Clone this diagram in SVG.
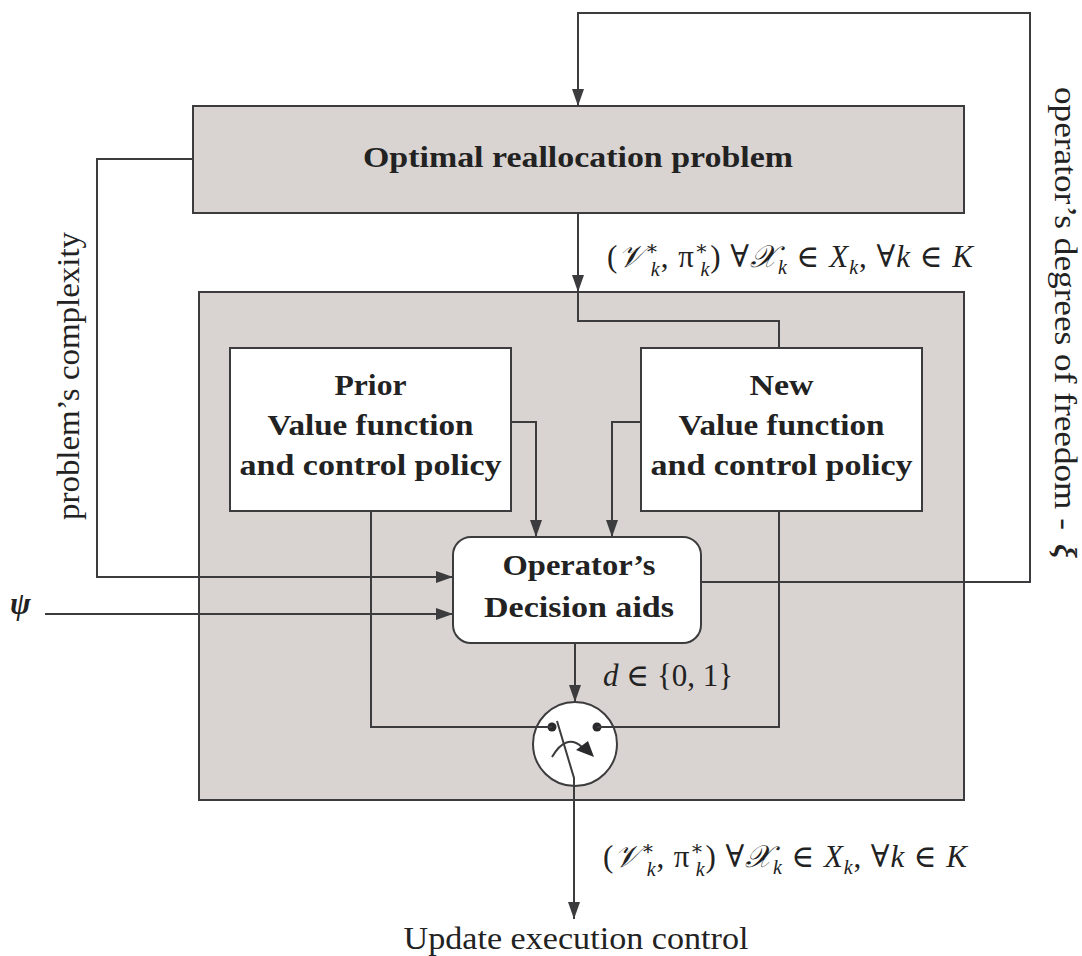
<svg xmlns="http://www.w3.org/2000/svg" width="1082" height="956" viewBox="0 0 1082 956">
<defs>
<style>
.box{fill:#d9d4d1;stroke:#3c3c3e;stroke-width:2}
.wbox{fill:#ffffff;stroke:#3c3c3e;stroke-width:2}
.ln{fill:none;stroke:#3c3c3e;stroke-width:2}
.b{font-family:"Liberation Serif","Times New Roman",serif;font-weight:bold;font-size:29px;fill:#222;text-anchor:middle}
.r{font-family:"Liberation Serif","Times New Roman",serif;font-size:31px;fill:#222}
.m{font-family:"Liberation Serif","DejaVu Serif",serif;font-size:31px;fill:#222}
.it{font-style:italic}
.cal{font-family:"DejaVu Serif","Noto Sans",serif;font-style:italic}
.sup{font-size:20px}
.sub{font-size:20px;font-style:italic}
</style>
<marker id="arr" viewBox="0 0 17 12" refX="17" refY="6" markerWidth="17" markerHeight="12" orient="auto" markerUnits="userSpaceOnUse">
<path d="M0,0 L17,6 L0,12 z" fill="#3c3c3e"/>
</marker>
</defs>

<g id="optimal-problem">
<rect class="box" x="193" y="106" width="771" height="107"/>
<text class="b" x="578" y="167" textLength="430" lengthAdjust="spacingAndGlyphs">Optimal reallocation problem</text>
</g>

<g id="container">
<rect class="box" x="199" y="292" width="765" height="508"/>
</g>

<g id="prior">
<rect class="wbox" x="230" y="348" width="281" height="163"/>
<text class="b" x="370.5" y="395" textLength="72" lengthAdjust="spacingAndGlyphs">Prior</text>
<text class="b" x="370.5" y="435" textLength="206" lengthAdjust="spacingAndGlyphs">Value function</text>
<text class="b" x="370.5" y="475" textLength="262" lengthAdjust="spacingAndGlyphs">and control policy</text>
</g>

<g id="new">
<rect class="wbox" x="641" y="348" width="281" height="163"/>
<text class="b" x="781.5" y="395" textLength="64" lengthAdjust="spacingAndGlyphs">New</text>
<text class="b" x="781.5" y="435" textLength="206" lengthAdjust="spacingAndGlyphs">Value function</text>
<text class="b" x="781.5" y="475" textLength="262" lengthAdjust="spacingAndGlyphs">and control policy</text>
</g>

<g id="decision-aids">
<rect class="wbox" x="453" y="537" width="248" height="106" rx="18" ry="18"/>
<text class="b" x="579" y="575" textLength="153" lengthAdjust="spacingAndGlyphs">Operator’s</text>
<text class="b" x="579" y="617" textLength="190" lengthAdjust="spacingAndGlyphs">Decision aids</text>
</g>

<g id="switch">
<circle cx="575" cy="744" r="42" fill="#ffffff" stroke="#3c3c3e" stroke-width="2"/>
<circle cx="552" cy="727" r="4.5" fill="#2a2a2c"/>
<circle cx="597" cy="727" r="4.5" fill="#2a2a2c"/>
<path class="ln" d="M552,757 Q566,733 582,747"/>
<path d="M576,750 L588,741 L594,757 z" fill="#2a2a2c"/>
</g>

<g id="connectors">
<path class="ln" d="M701,582 H1030 V13 H578 V106" marker-end="url(#arr)"/>
<path class="ln" d="M193,159 H97 V577 H453" marker-end="url(#arr)"/>
<path class="ln" d="M45,614 H453" marker-end="url(#arr)"/>
<path class="ln" d="M578,213 V292" marker-end="url(#arr)"/>
<path class="ln" d="M578,292 V321 H779 V348"/>
<path class="ln" d="M511,422 H536 V537" marker-end="url(#arr)"/>
<path class="ln" d="M641,422 H612 V537" marker-end="url(#arr)"/>
<path class="ln" d="M575,643 V702" marker-end="url(#arr)"/>
<path class="ln" d="M371,511 V727 H552"/>
<path class="ln" d="M779,511 V727 H597"/>
<path class="ln" d="M557,721 L574,778 V919" marker-end="url(#arr)"/>
</g>

<g id="labels">
<text class="m" x="607" y="267" textLength="366" lengthAdjust="spacing">(<tspan class="cal">𝒱</tspan><tspan class="sup" dy="-12">∗</tspan><tspan class="sub" dx="-9" dy="21">k</tspan><tspan dy="-9">, π</tspan><tspan class="sup" dy="-12">∗</tspan><tspan class="sub" dx="-9" dy="21">k</tspan><tspan dy="-9">) ∀</tspan><tspan class="cal">𝒳</tspan><tspan class="sub" dy="7">k</tspan><tspan dy="-7"> ∈ </tspan><tspan class="it">X</tspan><tspan class="sub" dy="7">k</tspan><tspan dy="-7">, ∀</tspan><tspan class="it">k</tspan> ∈ <tspan class="it">K</tspan></text>
<text class="m" x="603" y="867" textLength="364" lengthAdjust="spacing">(<tspan class="cal">𝒱</tspan><tspan class="sup" dy="-12">∗</tspan><tspan class="sub" dx="-9" dy="21">k</tspan><tspan dy="-9">, π</tspan><tspan class="sup" dy="-12">∗</tspan><tspan class="sub" dx="-9" dy="21">k</tspan><tspan dy="-9">) ∀</tspan><tspan class="cal">𝒳</tspan><tspan class="sub" dy="7">k</tspan><tspan dy="-7"> ∈ </tspan><tspan class="it">X</tspan><tspan class="sub" dy="7">k</tspan><tspan dy="-7">, ∀</tspan><tspan class="it">k</tspan> ∈ <tspan class="it">K</tspan></text>
<text class="m" x="603" y="686"><tspan class="it">d</tspan> ∈ {0, 1}</text>
<text class="m" x="10" y="614" font-size="34" font-weight="bold" font-style="italic">ψ</text>
<text class="r" x="576" y="949" text-anchor="middle" textLength="345" lengthAdjust="spacingAndGlyphs">Update execution control</text>
<text class="r" transform="translate(79,376) rotate(-90)" text-anchor="middle" textLength="288" lengthAdjust="spacingAndGlyphs">problem’s complexity</text>
<text class="r" font-size="30" transform="translate(1055,87) rotate(90)" textLength="443" lengthAdjust="spacingAndGlyphs">operator’s degrees of freedom -</text>
<text class="r" font-size="30" font-weight="bold" font-style="italic" text-anchor="middle" transform="translate(1055,551) rotate(90)">ξ</text>
</g>
</svg>
